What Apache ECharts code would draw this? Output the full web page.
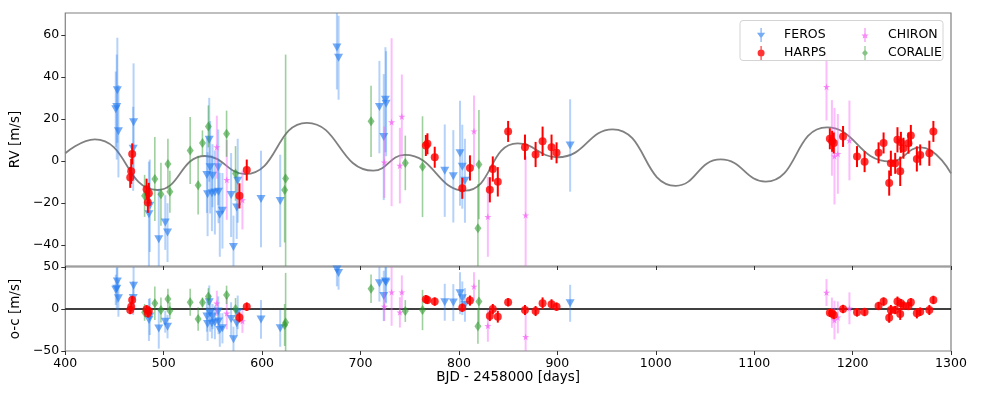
<!DOCTYPE html>
<html>
<head>
<meta charset="utf-8">
<script src="https://cdn.jsdelivr.net/npm/echarts@6.0.0/dist/echarts.min.js"></script>
<style>
  html, body { margin: 0; padding: 0; background: #fff; }
  #chart { width: 981px; height: 399px; }
</style>
</head>
<body>
<div id="chart"></div>
<script>
// FEROS
const ferosDays = [451.3, 452.3, 452.9, 454.0, 469.0, 469.4, 485.0, 485.9, 495.0, 501.6, 503.9,
  543.9, 544.6, 546.3, 547.2, 549.0, 549.6, 552.0, 555.4, 555.7, 557.0, 559.7, 568.5, 570.9, 574.2, 575.2,
  598.9, 618.4, 676.0, 677.7, 719.2, 723.6, 725.3, 726.0, 785.6, 794.3, 801.1, 803.4, 806.1, 913.0]
const ferosRv = [24.6, 25.7, 33.7, 14.2, 5.8, 18.5, -25.3, -21.3, -37.3, -29.3, -34.1,
  -6.7, -15.8, 10.1, -3.0, -15.4, -7.0, -15.0, -3.0, -14.6, -25.6, -23.7, -16.2, -41.0, -22.1, -9.4,
  -18.1, -19.0, 54.1, 49.2, 25.7, 11.4, 29.2, 27.3, -4.6, -7.3, 3.7, -2.7, -9.4, 7.4]
const ferosErr = [18, 25, 25, 22, 20, 28, 25, 22, 24, 13, 14,
  18, 20, 20, 22, 18, 15, 20, 18, 15, 20, 18, 20, 15, 15, 20,
  23, 22, 20, 20, 22, 30, 25, 25, 22, 22, 25, 20, 20, 22]
const ferosOc = [22.8, 24, 32.8, 12.8, 13, 27.6, -13, -9, -23.2, -15.2, -21,
  -9, -18, 8, -5, -17, -9, -16, -3, -15, -25, -23, -12, -36, -17, -4,
  -12.4, -23, 47, 43, 30.8, 15.6, 32.8, 31.6, 8, 7.6, 18.8, 12.8, 4.8, 6.8]

// HARPS
const harpsDays = [466.0, 467.0, 468.0, 482.6, 483.9, 484.9, 577.0, 584.4, 766.4, 768.0, 775.4,
  803.4, 811.2, 831.4, 834.4, 839.5, 850.0, 867.1, 877.9, 885.0, 894.1, 899.2,
  1176.9, 1179.2, 1180.9, 1190.3, 1204.5, 1212.2, 1226.4, 1231.5, 1237.2, 1238.9, 1243.3, 1245.6,
  1248.4, 1249.1, 1251.7, 1256.8, 1259.2, 1265.3, 1268.7, 1278.0, 1282.1]
const harpsRv = [-7.8, -4.9, 3.4, -13.4, -19.7, -15.4, -16.6, -4.3, 7.4, 8.2, 1.8,
  -13.0, -3.3, -13.7, -3.8, -9.9, 14.1, 6.6, 3.1, 9.4, 6.6, 3.9,
  10.6, 9.4, 8.6, 11.7, 2.1, -0.3, 3.9, 8.6, -10.5, -1.1, -1.1, 10.1,
  -4.9, 8.9, 6.1, 8.5, 12.2, 1.0, 2.9, 3.7, 14.1]
const harpsErr = [5, 6, 5, 5, 5, 5, 6, 5, 5, 5, 5,
  5, 6, 6, 6, 7, 5, 6, 6, 7, 6, 5,
  5, 5, 5, 5, 5, 5, 5, 5, 6, 6, 5, 6,
  7, 5, 5, 5, 5, 6, 5, 6, 5]
const harpsOc = [-1.2, 2.8, 10.8, -0.4, -5.2, -2.4, -10, 2.8, 11.6, 10.8, 8.8,
  1.6, 10, -8.4, 0, -9.2, 8, -1.2, -2.4, 6.8, 5.6, 2.8,
  -4.4, -5.2, -7.2, 0, -4, -3.6, 3.6, 8.8, -10.4, -1.2, -1.2, 8.8,
  -6, 6.8, 4, 3.6, 8, -5.2, -3.2, -1.2, 10.8]

// CHIRON
const chironDays = [554.0, 564.1, 580.0, 724.2, 731.6, 740.0, 742.0, 815.3, 829.4, 867.8,
  1173.5, 1179.0, 1181.6, 1185.0, 1196.8]
const chironRv = [6.6, -9.0, -18.6, -0.6, 18.5, -2.2, 21.2, 14.2, -26.6, -25.8,
  35.3, 11.0, 2.3, 3.4, 9.8]
const chironErr = [15, 19, 14, 17, 40, 18, 20, 17, 19, 28,
  16, 18, 23, 19, 19]
const chironOc = [6.8, -5.2, -14.4, 2.8, 20, -4, 20, 26.8, -20, -33.2,
  19.6, -4.4, -13.2, -10, 0.8]

// CORALIE
const coralieDays = [480.6, 491.0, 497.2, 504.3, 506.3, 526.9, 535.0, 539.4, 545.4, 563.9, 573.0,
  622.9, 623.9, 710.7, 745.5, 763.0, 819.3, 820.3]
const coralieRv = [-16.6, -8.6, -15.8, -1.4, -14.6, 5.0, -11.5, 8.6, 16.5, 13.0, -5.9,
  -13.8, -8.3, 18.9, -0.9, -2.7, -32.0, -1.7]
const coralieErr = [10, 20, 15, 12, 10, 16, 14, 6, 10, 11, 13,
  25, 59, 17, 13, 24, 21, 26]
const coralieOc = [-4, 6.8, -1.2, 12, -2, 8, -12, 7.6, 14.8, 16.8, 0,
  -19, -16, 24, -2.4, -1.2, -20.4, 8.8]

// model curve: turning points
const modelDays = [400, 430, 493.5, 542, 583, 645.5, 713, 745, 806, 859.7, 900.5, 956.2,
  1020.4, 1066, 1111.6, 1174, 1238, 1269, 1300]
const modelRv = [3.7, 10.3, -13.8, 2.4, -6.2, 18.2, -4.6, 2.9, -14.1, 8.4, 1.8, 15.1,
  -11.8, 0.8, -9.8, 16, -0.3, 6.5, -5.9]

const xTicks = [400, 500, 600, 700, 800, 900, 1000, 1100, 1200, 1300]
const rvTicks = [-40, -20, 0, 20, 40, 60]
const ocTicks = [-50, 0, 50]

const FONT = 'DejaVu Sans'
const FS = 12.5

const insts = [
  {
    name: 'FEROS', days: ferosDays, rv: ferosRv, err: ferosErr, oc: ferosOc,
    symbol: 'triangle', rotate: 180, size: [9, 8], z: 3,
    color: 'rgba(40,125,240,0.8)', bar: 'rgba(40,125,240,0.35)', barWidth: 2,
    icon: 'path://M9,0 L11,0 L11,24 L9,24 Z M3,8 L17,8 L10,18 Z'
  },
  {
    name: 'HARPS', days: harpsDays, rv: harpsRv, err: harpsErr, oc: harpsOc,
    symbol: 'circle', rotate: 0, size: 8, z: 6,
    color: '#ff0000', bar: '#ff0000', barWidth: 2,
    icon: 'path://M9,0 L11,0 L11,24 L9,24 Z M10,6 A6,6 0 1,1 10,18 A6,6 0 1,1 10,6 Z'
  },
  {
    name: 'CHIRON', days: chironDays, rv: chironRv, err: chironErr, oc: chironOc,
    symbol: 'path://M50,0 L61,35 L98,35 L68,57 L79,91 L50,70 L21,91 L32,57 L2,35 L39,35 Z',
    rotate: 0, size: 7, z: 4,
    color: 'rgba(245,90,245,0.85)', bar: 'rgba(245,90,245,0.4)', barWidth: 2,
    icon: 'path://M9,0 L11,0 L11,24 L9,24 Z M10,7 L12,11 L16,11 L13,14 L14,18 L10,16 L6,18 L7,14 L4,11 L8,11 Z'
  },
  {
    name: 'CORALIE', days: coralieDays, rv: coralieRv, err: coralieErr, oc: coralieOc,
    symbol: 'diamond', rotate: 0, size: [7, 10], z: 5,
    color: 'rgba(40,150,40,0.7)', bar: 'rgba(40,150,40,0.45)', barWidth: 1.6,
    icon: 'path://M9,0 L11,0 L11,24 L9,24 Z M10,6 L15,12 L10,18 L5,12 Z'
  }
]

function errorBars(color, width) {
  return function (params, api) {
    const x = api.value(0)
    const y = api.value(1)
    const e = api.value(2)
    const lo = api.coord([x, y - e])
    const hi = api.coord([x, y + e])
    return {
      type: 'line',
      shape: { x1: lo[0], y1: lo[1], x2: hi[0], y2: hi[1] },
      style: { stroke: color, lineWidth: width }
    }
  }
}

const minus = v => String(v).replace('-', '\u2212')

const series = [{
  name: 'model',
  type: 'line',
  xAxisIndex: 0,
  yAxisIndex: 0,
  data: modelDays.map((d, i) => [d, modelRv[i]]),
  smooth: 0.5,
  showSymbol: false,
  silent: true,
  z: 1,
  lineStyle: { color: '#808080', width: 1.8 }
}, {
  name: 'zero',
  type: 'line',
  xAxisIndex: 1,
  yAxisIndex: 1,
  data: [[400, 0], [1300, 0]],
  showSymbol: false,
  silent: true,
  z: 1,
  lineStyle: { color: '#000', width: 1.5 }
}]

insts.forEach(s => {
  const top = s.days.map((d, i) => [d, s.rv[i], s.err[i]])
  const bottom = s.days.map((d, i) => [d, s.oc[i], s.err[i]])
  ;[[0, top], [1, bottom]].forEach(([k, data]) => {
    series.push({
      name: s.name + ' err',
      type: 'custom',
      xAxisIndex: k,
      yAxisIndex: k,
      clip: true,
      z: s.z,
      silent: true,
      renderItem: errorBars(s.bar, s.barWidth),
      encode: { x: 0, y: 1 },
      data: data
    })
    series.push({
      name: s.name,
      type: 'scatter',
      xAxisIndex: k,
      yAxisIndex: k,
      clip: true,
      z: s.z,
      symbol: s.symbol,
      symbolRotate: s.rotate,
      symbolSize: s.size,
      itemStyle: { color: s.color },
      data: data.map(p => [p[0], p[1]])
    })
  })
})

const legendText = { fontFamily: FONT, fontSize: FS, color: '#000', padding: [0, 0, 0, 13] }
const tick = vals => ({ show: true, length: 4, lineStyle: { color: '#333' }, customValues: vals })
const label = vals => ({ fontFamily: FONT, fontSize: FS, color: '#000', margin: 6, customValues: vals, formatter: minus })
const nameStyle = { fontFamily: FONT, fontSize: 13.5, color: '#000' }

const chart = echarts.init(document.getElementById('chart'))
chart.setOption({
  animation: false,
  backgroundColor: '#fff',
  textStyle: { fontFamily: FONT },
  grid: [
    { left: 61, right: 30, top: 13, height: 253, show: true, borderColor: '#808080', borderWidth: 1.2 },
    { left: 61, right: 30, top: 267, height: 84, show: true, borderColor: '#808080', borderWidth: 1.2 }
  ],
  graphic: [{
    type: 'rect',
    z: 100,
    shape: { x: 740, y: 20.5, width: 203, height: 40, r: 3 },
    style: { fill: 'rgba(255,255,255,0.85)', stroke: '#d4d4d4', lineWidth: 1 }
  }],
  legend: [
    {
      data: [{ name: 'FEROS', icon: insts[0].icon }, { name: 'HARPS', icon: insts[1].icon }],
      orient: 'vertical', left: 752, top: 23, z: 101,
      itemWidth: 10, itemHeight: 14, itemGap: 4,
      textStyle: legendText
    },
    {
      data: [{ name: 'CHIRON', icon: insts[2].icon }, { name: 'CORALIE', icon: insts[3].icon }],
      orient: 'vertical', left: 856.5, top: 23, z: 101,
      itemWidth: 10, itemHeight: 14, itemGap: 4,
      textStyle: legendText
    }
  ],
  xAxis: [
    {
      type: 'value', gridIndex: 0, min: 400, max: 1300, interval: 100,
      axisLine: { show: false, onZero: false },
      axisTick: tick(xTicks),
      axisLabel: { show: false },
      splitLine: { show: false }
    },
    {
      type: 'value', gridIndex: 1, min: 400, max: 1300, interval: 100,
      name: 'BJD - 2458000 [days]', nameLocation: 'middle', nameGap: 19,
      nameTextStyle: nameStyle,
      axisLine: { show: false, onZero: false },
      axisTick: tick(xTicks),
      axisLabel: label(xTicks),
      splitLine: { show: false }
    }
  ],
  yAxis: [
    {
      type: 'value', gridIndex: 0, min: -50, max: 70.5,
      name: 'RV [m/s]', nameLocation: 'middle', nameGap: 33,
      nameTextStyle: nameStyle,
      axisLine: { show: false, onZero: false },
      axisTick: tick(rvTicks),
      axisLabel: label(rvTicks),
      splitLine: { show: false }
    },
    {
      type: 'value', gridIndex: 1, min: -50, max: 50, interval: 50,
      name: 'o-c [m/s]', nameLocation: 'middle', nameGap: 33,
      nameTextStyle: nameStyle,
      axisLine: { show: false, onZero: false },
      axisTick: tick(ocTicks),
      axisLabel: label(ocTicks),
      splitLine: { show: false }
    }
  ],
  series: series
})
</script>
</body>
</html>
